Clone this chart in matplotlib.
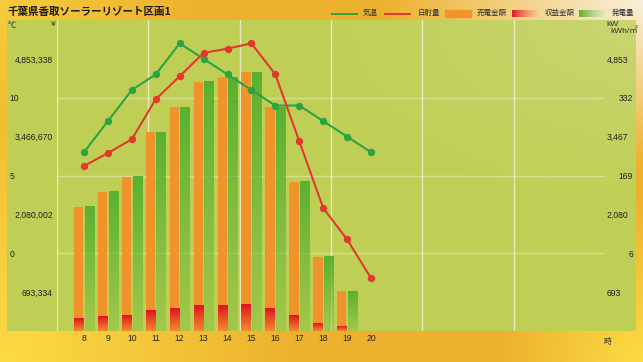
import numpy as np
import matplotlib
matplotlib.use('Agg')
import matplotlib.pyplot as plt

plt.rcParams['font.family'] = ['Liberation Sans', 'Noto Sans CJK JP', 'DejaVu Sans']

# ---------------- data ----------------
title = '千葉県香取ソーラーリゾート区画1'
hours = [8, 9, 10, 11, 12, 13, 14, 15, 16, 17, 18, 19, 20]
temperature = [6.5, 8.5, 10.5, 11.5, 13.5, 12.5, 11.5, 10.5, 9.5, 9.5, 8.5, 7.5, 6.5]
radiation = [189, 216, 245, 329, 377, 426, 435, 446, 381, 241, 101, 35, -46]
sales_yen = [2217000, 2484000, 2752000, 3549000, 3995000, 4441000, 4530000,
             4619000, 3995000, 2663000, 1325000, 708000, 0]
income_yen = [226000, 255000, 280000, 357000, 398000, 446000, 446000,
              464000, 398000, 268000, 130000, 77000, 0]
generation_kw = [2217, 2484, 2752, 3549, 3995, 4441, 4530, 4619, 3995, 2663, 1325, 708, 0]

yen_ticks = [693334, 2080002, 3466670, 4853338]
yen_labels = ['693,334', '2,080,002', '3,466,670', '4,853,338']
temp_ticks = [0, 5, 10]
temp_labels = ['0', '5', '10']
kw_ticks = [693.334, 2080.002, 3466.670, 4853.338]
kw_labels = ['693', '2,080', '3,467', '4,853']
rad_ticks = [6, 169, 332]
rad_labels = ['6', '169', '332']
legend_labels = ['気温', '日射量', '売電金額', '収益金額', '発電量']
unit_labels = ['℃', '¥', 'kW', 'kWh/㎡', '時']

yen_lim = (0, 5546672)
temp_lim = (-5, 15)
kw_lim = (0, 5546.672)
rad_lim = (-157, 495)
x_lim = (6.871, 29.784)

# ---------------- figure ----------------
W, H = 643, 362
fig = plt.figure(figsize=(W / 100, H / 100), dpi=100)

bg = fig.add_axes([0, 0, 1, 1])
bg.axis('off')
yy, xx = np.mgrid[0:H, 0:W]
u = xx / W
v = yy / H
O = np.array([0.93, 0.70, 0.18])
Y = np.array([0.99, 0.86, 0.27])
C = np.array([0.98, 0.94, 0.86])
d_bl = np.sqrt((u / 0.45) ** 2 + ((1 - v) / 0.9) ** 2)
d_br = np.sqrt(((1 - u) / 0.22) ** 2 + ((1 - v) / 0.45) ** 2)
d_tl = np.sqrt((u / 0.3) ** 2 + (v / 0.6) ** 2)
wy = np.clip(np.maximum.reduce([1 - d_bl, 1 - d_br, 0.6 * (1 - d_tl)]), 0, 1)
d_tr = np.sqrt(((1 - u) / 0.4) ** 2 + (v / 0.45) ** 2)
wc = np.clip(1 - d_tr, 0, 1)
s = np.maximum(wy + wc, 1)
wy, wc = wy / s, wc / s
img = (O[None, None, :] * (1 - wy - wc)[..., None] + Y[None, None, :] * wy[..., None]
       + C[None, None, :] * wc[..., None])
bg.imshow(np.clip(img, 0, 1), extent=(0, W, H, 0), aspect='auto', zorder=0)

# green panel
pw, ph = 629, 311
pu = np.linspace(0, 1, pw)[None, :]
pv = np.linspace(0, 1, ph)[:, None]
G1 = np.array([0.75, 0.815, 0.335])
G2 = np.array([0.79, 0.835, 0.44])
wg = np.clip(1 - np.sqrt(((1 - pu) / 0.5) ** 2 + (pv / 0.6) ** 2), 0, 1)
pimg = G1[None, None, :] * (1 - wg)[..., None] + G2[None, None, :] * wg[..., None]
bg.imshow(pimg, extent=(7, 636, 331, 20), aspect='auto', zorder=1)
bg.set_xlim(0, W)
bg.set_ylim(H, 0)

# title
bg.text(7, 11.5, title, fontsize=7.6, fontweight='bold', va='center', ha='left',
        color='#1a1a1a', family=['Noto Sans CJK JP', 'DejaVu Sans'], zorder=5)

# legend
TXT = '#333333'
LFS = 5.4
ly = 13.5
bg.plot([332, 357], [ly, ly], color='#2EA343', lw=1.4, zorder=5)
bg.text(363, ly, legend_labels[0], fontsize=LFS, va='center', color=TXT, zorder=5)
bg.plot([385, 410], [ly, ly], color='#E03A30', lw=1.4, zorder=5)
bg.text(417.5, ly, legend_labels[1], fontsize=LFS, va='center', color=TXT, zorder=5)
bg.add_patch(plt.Rectangle((445, 10.3), 25.5, 6.4, color='#F0952B', zorder=5))
bg.text(477, ly, legend_labels[2], fontsize=LFS, va='center', color=TXT, zorder=5)
n = 64
t = np.linspace(0, 1, n)[:, None]
red_h = (1 - t) * np.array([0.88, 0.10, 0.15, 1.0]) + t * np.array([0.97, 0.78, 0.55, 0.6])
bg.imshow(red_h[None, :, :], extent=(512.3, 537.7, 16.7, 10.3), aspect='auto', zorder=5)
bg.text(544.5, ly, legend_labels[3], fontsize=LFS, va='center', color=TXT, zorder=5)
grn_h = (1 - t) * np.array([0.36, 0.70, 0.20, 1.0]) + t * np.array([0.85, 0.91, 0.70, 0.6])
bg.imshow(grn_h[None, :, :], extent=(579.3, 605, 16.7, 10.3), aspect='auto', zorder=5)
bg.text(612, ly, legend_labels[4], fontsize=LFS, va='center', color=TXT, zorder=5)

# unit labels
UFS = 6.0
bg.text(7.5, 25, unit_labels[0], fontsize=UFS, va='center', color=TXT, zorder=5,
        family=['Noto Sans CJK JP', 'DejaVu Sans'])
bg.text(51, 25, unit_labels[1], fontsize=UFS, va='center', color=TXT, zorder=5)
bg.text(606.5, 24.5, unit_labels[2], fontsize=UFS, va='center', color=TXT, zorder=5)
bg.text(610.5, 31.5, unit_labels[3], fontsize=UFS, va='center', color=TXT, zorder=5,
        family=['Liberation Sans', 'Noto Sans CJK JP'])
bg.text(603.5, 342, unit_labels[4], fontsize=5.6, va='center', color=TXT, zorder=5,
        family=['Noto Sans CJK JP', 'DejaVu Sans'])
bg.set_xlim(0, W)
bg.set_ylim(H, 0)

# ---------------- main axes ----------------
ax = fig.add_axes([57 / W, 1 - 331 / H, 548 / W, 311 / H])
ax.set_facecolor('none')
ax_kw = ax.twinx()
ax_t = ax.twinx()
ax_r = ax.twinx()

x = np.array(hours, dtype=float)

# grid (minor ticks)
ax.set_yticks(np.arange(1, 8) * yen_ticks[0], minor=True)
ax.set_xticks(np.linspace(x_lim[0], x_lim[1], 7)[:-1], minor=True)
ax.grid(True, which='minor', axis='y', color='white', alpha=0.35, lw=1.0)
ax.grid(True, which='minor', axis='x', color='white', alpha=0.6, lw=1.0)
ax.tick_params(which='minor', length=0)

def grad_fill(axx, bars, bottom_rgba, top_rgba, z):
    tt = np.linspace(0, 1, 64)[:, None]
    arr = (1 - tt) * np.array(bottom_rgba) + tt * np.array(top_rgba)
    arr = arr[:, None, :]
    for b in bars:
        h = b.get_height()
        if h <= 0:
            continue
        x0 = b.get_x()
        w = b.get_width()
        axx.imshow(arr, extent=(x0, x0 + w, 0, h), origin='lower', aspect='auto',
                   zorder=z, interpolation='bilinear')

ax.bar(x - 0.22, sales_yen, width=0.39, color='#F0932B', zorder=2)
rb = ax.bar(x - 0.22, income_yen, width=0.39, color='none', zorder=3)
grad_fill(ax, rb, (0.95, 0.55, 0.17, 1.0), (0.89, 0.07, 0.13, 1.0), 3)
gb = ax_kw.bar(x + 0.22, generation_kw, width=0.38, color='none', zorder=2)
grad_fill(ax_kw, gb, (0.36, 0.70, 0.20, 0.28), (0.33, 0.69, 0.18, 0.95), 2)

ax_t.plot(x, temperature, color='#2EA343', lw=1.5, marker='o', ms=4.3, zorder=5)
ax_r.plot(x, radiation, color='#E03A30', lw=1.5, marker='o', ms=4.3, zorder=5)

for a in (ax, ax_kw, ax_t, ax_r):
    a.set_xlim(*x_lim)
    for sp in a.spines.values():
        sp.set_visible(False)
ax.set_ylim(*yen_lim)
ax_kw.set_ylim(*kw_lim)
ax_t.set_ylim(*temp_lim)
ax_r.set_ylim(*rad_lim)

NFS = 6.2
NC = '#222222'
ax.set_xticks(hours, [str(h) for h in hours])
ax.tick_params(axis='x', which='major', length=0, pad=2.3, labelsize=NFS, labelcolor=NC)
ax.set_yticks(yen_ticks, yen_labels)
ax.tick_params(axis='y', which='major', length=0, pad=2.9, labelsize=NFS, labelcolor=NC)

ax_t.yaxis.tick_left()
ax_t.set_yticks(temp_ticks, temp_labels)
ax_t.tick_params(axis='y', length=0, pad=34.2, labelsize=NFS, labelcolor=NC)
plt.setp(ax_t.get_yticklabels(), ha='left')

ax_kw.set_yticks(kw_ticks, kw_labels)
ax_kw.tick_params(axis='y', length=0, pad=1.4, labelsize=NFS, labelcolor=NC)

ax_r.set_yticks(rad_ticks, rad_labels)
ax_r.tick_params(axis='y', length=0, pad=20.2, labelsize=NFS, labelcolor=NC)
plt.setp(ax_r.get_yticklabels(), ha='right')

fig.savefig('out.png', dpi=100)
